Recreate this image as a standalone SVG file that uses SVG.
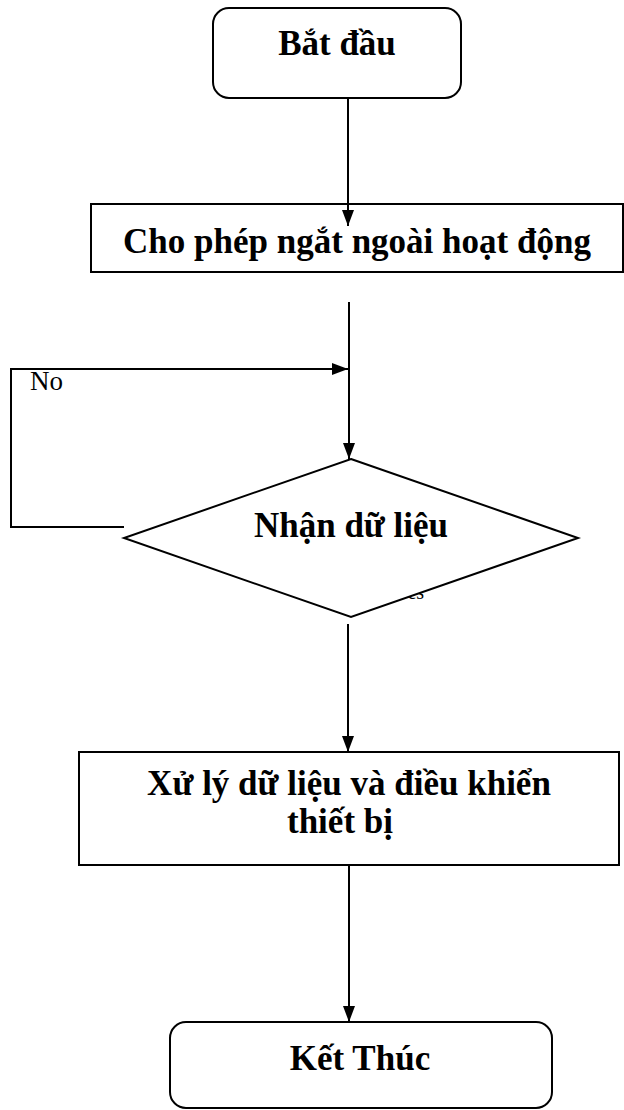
<svg xmlns="http://www.w3.org/2000/svg" width="624" height="1110" viewBox="0 0 624 1110">
  <style>
    .shape { fill: #ffffff; stroke: #000000; stroke-width: 2; }
    .wire { fill: none; stroke: #000000; stroke-width: 2; }
    .label { font-family: "Liberation Serif", "Times New Roman", serif; font-weight: bold; font-size: 35px; fill: #000000; text-anchor: middle; }
    .note { font-family: "Liberation Serif", "Times New Roman", serif; font-size: 27px; fill: #000000; }
    .small { font-family: "Liberation Serif", "Times New Roman", serif; font-size: 20px; fill: #000000; }
  </style>
  <defs>
    <marker id="arrow" markerWidth="16" markerHeight="12" refX="16" refY="6" orient="auto" markerUnits="userSpaceOnUse">
      <path d="M0,0 L16,6 L0,12 Z" fill="#000000"/>
    </marker>
  </defs>
  <rect width="624" height="1110" fill="#ffffff"/>

  <!-- branch label sitting behind the decision shape -->
  <text class="small" x="395" y="599">Yes</text>

  <g id="start">
    <rect class="shape" x="213" y="8" width="248" height="90" rx="16" ry="16"/>
    <text class="label" x="337" y="55">Bắt đầu</text>
  </g>

  <g id="enable-interrupt">
    <rect class="shape" x="91" y="204" width="532" height="68"/>
    <text class="label" x="357" y="253">Cho phép ngắt ngoài hoạt động</text>
  </g>

  <g id="receive-data">
    <polygon class="shape" points="351,459 578,538 351,617 124,538"/>
    <text class="label" x="351" y="537">Nhận dữ liệu</text>
  </g>

  <g id="process">
    <rect class="shape" x="79" y="752" width="540" height="113"/>
    <text class="label" x="349" y="795">Xử lý dữ liệu và điều khiển</text>
    <text class="label" x="340" y="833">thiết bị</text>
  </g>

  <g id="end">
    <rect class="shape" x="170" y="1022" width="382" height="86" rx="16" ry="16"/>
    <text class="label" x="360" y="1070">Kết Thúc</text>
  </g>

  <g id="connectors">
    <line class="wire" x1="348" y1="98" x2="348" y2="226" marker-end="url(#arrow)"/>
    <line class="wire" x1="349" y1="302" x2="349" y2="459" marker-end="url(#arrow)"/>
    <polyline class="wire" points="124,527 11,527 11,369 348,369" marker-end="url(#arrow)"/>
    <text class="note" x="30" y="390">No</text>
    <line class="wire" x1="348" y1="624" x2="348" y2="752" marker-end="url(#arrow)"/>
    <line class="wire" x1="349" y1="865" x2="349" y2="1022" marker-end="url(#arrow)"/>
  </g>
</svg>
